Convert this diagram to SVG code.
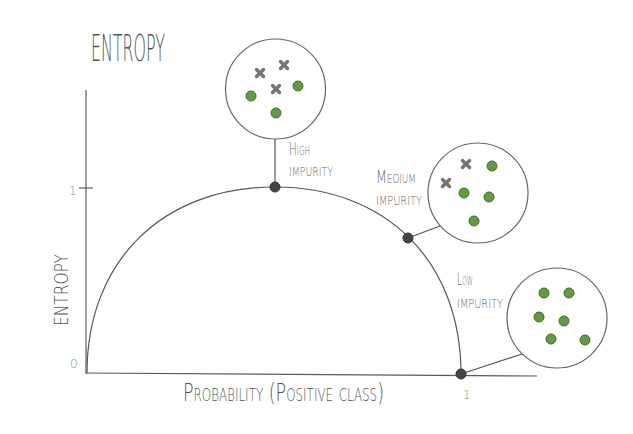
<svg xmlns="http://www.w3.org/2000/svg" width="633" height="434" viewBox="0 0 633 434">
<defs>
<style>
.ax{stroke:#5a5a5a;stroke-width:1.2;fill:none}
.ln{stroke:#555;stroke-width:1.2;fill:none}
.bub{fill:#fff;stroke:#666;stroke-width:1.2}
.pt{fill:#444;stroke:#333;stroke-width:1}
.g{fill:#5f9c40;stroke:#3f6e2b;stroke-width:1}
.x{stroke:#7a7070;stroke-width:3.4;stroke-linecap:round}
.t{font-family:"DejaVu Sans","Liberation Sans",sans-serif;font-weight:200;fill:#555;font-stretch:condensed}
.lab{font-size:17px;font-variant:small-caps;fill:#6a6a6a}
.tick{font-size:12px;fill:#8a8a8a}
</style>
<g id="xm"><line class="x" x1="-3.5" y1="-3.5" x2="3.5" y2="3.5"/><line class="x" x1="-3.5" y1="3.5" x2="3.5" y2="-3.5"/></g>
</defs>
<rect width="633" height="434" fill="#fff"/>
<text class="t" x="91" y="61" font-size="38" textLength="74" lengthAdjust="spacingAndGlyphs">ENTROPY</text>
<g id="axes">
<line class="ax" x1="86" y1="90" x2="86" y2="374"/>
<line class="ax" x1="86" y1="373" x2="537" y2="376"/>
<line class="ax" x1="79" y1="188" x2="93" y2="188"/>
<text class="t tick" x="69" y="195">1</text>
<text class="t tick" x="70" y="368">0</text>
<text class="t tick" x="463" y="399">1</text>
<text class="t" transform="translate(68,326) rotate(-90)" font-size="20" textLength="72" lengthAdjust="spacingAndGlyphs">ENTROPY</text>
<text class="t" transform="translate(183,401) scale(0.6,1)" font-size="25" font-variant="small-caps" textLength="335" lengthAdjust="spacingAndGlyphs">Probability (Positive class)</text>
</g>
<g id="connectors">
<path class="ln" d="M87 373 C87 261.4 162.2 187 275 187 C386.6 187 461 261.8 461 374"/>
<line class="ln" x1="275" y1="139" x2="275" y2="187"/>
<line class="ln" x1="408" y1="238" x2="440" y2="226"/>
<line class="ln" x1="461" y1="374" x2="522" y2="354"/>
</g>
<g id="high">
<circle class="bub" cx="275.5" cy="89" r="50"/>
<use href="#xm" x="260" y="73"/><use href="#xm" x="284" y="65"/><use href="#xm" x="276" y="89"/>
<circle class="g" cx="251" cy="96" r="5"/><circle class="g" cx="298" cy="86" r="5"/><circle class="g" cx="276" cy="113" r="5"/>
<circle class="pt" cx="275" cy="187" r="5"/>
<text class="t lab" x="289" y="155" textLength="21" lengthAdjust="spacingAndGlyphs">High</text>
<text class="t lab" x="289" y="176" textLength="44" lengthAdjust="spacingAndGlyphs">impurity</text>
</g>
<g id="medium">
<circle class="bub" cx="478" cy="193" r="50"/>
<use href="#xm" x="466" y="164"/><use href="#xm" x="446" y="183"/>
<circle class="g" cx="492" cy="166" r="5"/><circle class="g" cx="464" cy="193" r="5"/><circle class="g" cx="489" cy="197" r="5"/><circle class="g" cx="474" cy="221" r="5"/>
<circle class="pt" cx="408" cy="238" r="5"/>
<text class="t lab" x="376" y="183" textLength="40" lengthAdjust="spacingAndGlyphs">Medium</text>
<text class="t lab" x="376" y="205" textLength="46" lengthAdjust="spacingAndGlyphs">impurity</text>
</g>
<g id="low">
<circle class="bub" cx="557" cy="318" r="50"/>
<circle class="g" cx="544" cy="293" r="5"/><circle class="g" cx="569" cy="293" r="5"/><circle class="g" cx="539" cy="317" r="5"/><circle class="g" cx="564" cy="321" r="5"/><circle class="g" cx="551" cy="339" r="5"/><circle class="g" cx="585" cy="340" r="5"/>
<circle class="pt" cx="461" cy="374" r="5"/>
<text class="t lab" x="457" y="285" textLength="16" lengthAdjust="spacingAndGlyphs">Low</text>
<text class="t lab" x="457" y="308" textLength="46" lengthAdjust="spacingAndGlyphs">impurity</text>
</g>
</svg>
